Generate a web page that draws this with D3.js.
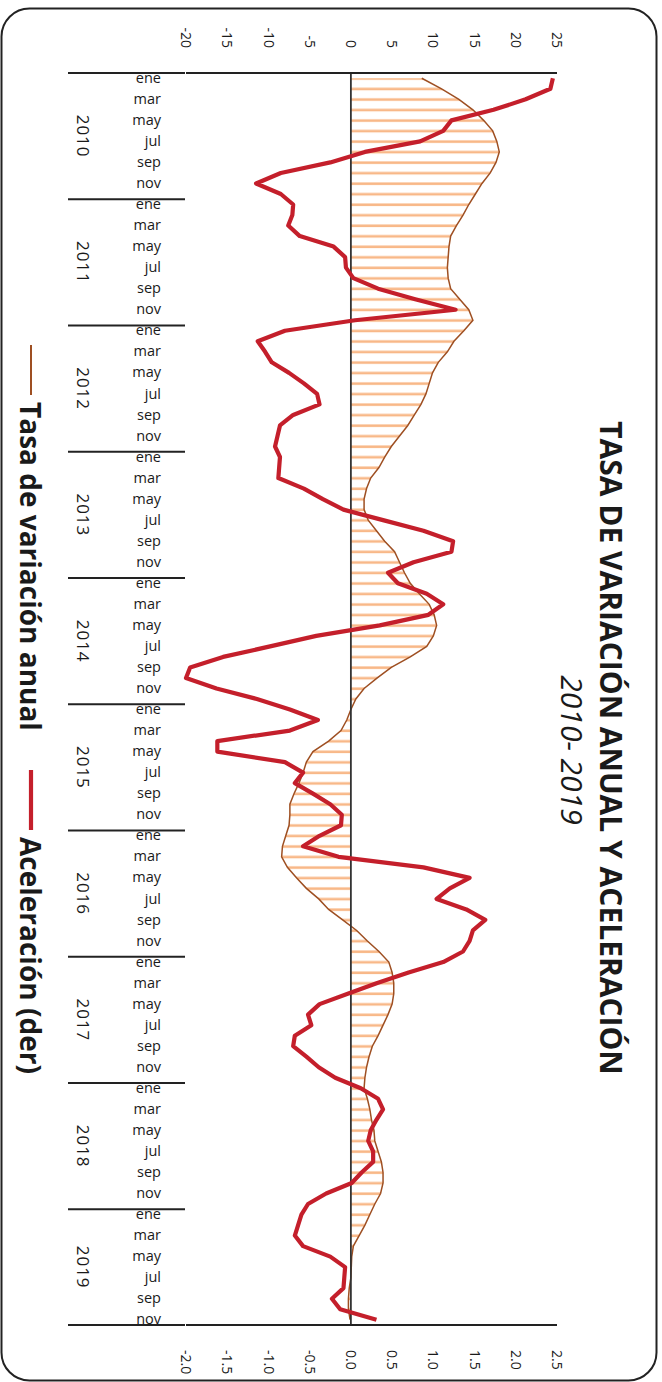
<!DOCTYPE html>
<html>
<head>
<meta charset="utf-8">
<script src="https://cdn.jsdelivr.net/npm/d3@7"></script>
<style>
  body { margin: 0; background: #fff; }
  text { font-family: "Open Sans", sans-serif; fill: #1a1a1a; }
</style>
</head>
<body>
<svg width="662" height="1382"></svg>
<script>
  // categories
  const years = ['2010', '2011', '2012', '2013', '2014', '2015', '2016', '2017', '2018', '2019'];
  const monthNames = ['ene', 'feb', 'mar', 'abr', 'may', 'jun', 'jul', 'ago', 'sep', 'oct', 'nov', 'dic'];

  // tasa de variación anual (%), ene 2010 - nov 2019
  const tasa = [
    8.6, 11.0, 13.1, 14.8, 16.1, 17.2, 17.7, 18.0, 17.6, 16.9, 15.9, 15.1,
    14.3, 13.6, 12.8, 12.1, 11.9, 11.8, 11.7, 11.8, 12.1, 13.2, 14.3, 14.8,
    13.7, 12.5, 11.7, 10.6, 9.9, 9.5, 9.1, 8.5, 7.7, 6.9, 5.9, 4.9,
    4.1, 3.4, 2.4, 1.9, 1.6, 1.6, 2.1, 3.1, 4.1, 5.3, 5.9, 6.5,
    7.2, 8.3, 9.5, 10.1, 10.4, 10.0, 9.2, 7.2, 4.9, 3.2, 1.6, 0.6,
    0.0, -0.5, -1.2, -2.7, -4.6, -5.4, -5.8, -6.3, -6.9, -7.4, -7.4, -7.5,
    -7.9, -8.3, -8.4, -7.7, -6.6, -5.4, -3.9, -2.7, -1.0, 0.7, 2.0, 3.4,
    4.6, 5.0, 5.2, 5.2, 5.0, 4.5, 3.9, 3.3, 2.6, 2.2, 1.9, 1.7,
    1.6, 2.0, 2.3, 2.5, 2.8, 2.9, 3.3, 3.7, 3.9, 3.9, 3.6, 2.9,
    2.3, 1.7, 1.0, 0.3, 0.1, 0.05, 0.0, -0.2, -0.3, -0.3, -0.1
  ];

  // aceleración (eje derecho)
  const aceleracion = [
    2.45, 2.42, 2.12, 1.73, 1.22, 1.12, 0.84, 0.17, -0.25, -0.85, -1.15, -0.85,
    -0.70, -0.71, -0.76, -0.62, -0.21, -0.07, -0.06, 0.03, 0.33, 0.78, 1.27, 0.05,
    -0.80, -1.13, -1.04, -0.96, -0.75, -0.57, -0.41, -0.38, -0.70, -0.86, -0.89, -0.92,
    -0.86, -0.87, -0.88, -0.57, -0.34, -0.09, 0.39, 0.88, 1.24, 1.22, 0.76, 0.45,
    0.57, 0.92, 1.12, 0.94, 0.35, -0.42, -0.98, -1.55, -1.95, -2.00, -1.63, -1.14,
    -0.74, -0.40, -0.74, -1.62, -1.62, -0.80, -0.58, -0.68, -0.46, -0.25, -0.11, -0.12,
    -0.38, -0.58, -0.15, 0.88, 1.44, 1.20, 1.04, 1.40, 1.63, 1.48, 1.44, 1.36,
    1.12, 0.70, 0.32, -0.03, -0.38, -0.52, -0.48, -0.68, -0.70, -0.54, -0.39, -0.19,
    0.12, 0.33, 0.39, 0.31, 0.24, 0.21, 0.27, 0.27, 0.13, 0.01, -0.30, -0.52,
    -0.60, -0.64, -0.68, -0.58, -0.25, -0.07, -0.08, -0.09, -0.23, -0.13, 0.31
  ];

  const leftTicks = [-20, -15, -10, -5, 0, 5, 10, 15, 20, 25];
  const rightTicks = [-2.0, -1.5, -1.0, -0.5, 0.0, 0.5, 1.0, 1.5, 2.0, 2.5];

  const title = 'TASA DE VARIACIÓN ANUAL Y ACELERACIÓN';
  const subtitle = '2010- 2019';
  const legendNames = ['Tasa de variación anual', 'Aceleración (der)'];

  const svg = d3.select('svg');

  // marco redondeado
  svg.append('rect')
    .attr('x', 1.5).attr('y', 8.5)
    .attr('width', 655).attr('height', 1372)
    .attr('rx', 28)
    .attr('fill', 'none')
    .attr('stroke', '#222')
    .attr('stroke-width', 2);

  // the chart is drawn landscape (1382 x 662) and turned 90deg clockwise
  const g = svg.append('g').attr('transform', 'translate(662,0) rotate(90)');

  const months = [];
  years.forEach(y => monthNames.forEach((m, mi) => months.push({ year: y, month: m, mi: mi })));
  const cats = months.slice(0, tasa.length).map(d => ({ ...d, key: d.month + ' ' + d.year }));

  const x = d3.scaleBand().domain(cats.map(d => d.key)).range([73, 1325]);
  const bw = x.bandwidth();
  const xc = d => x(d.key) + bw / 2;
  const yRate = d3.scaleLinear().domain([-20, 25]).range([476, 105]);
  const yAcc = d3.scaleLinear().domain([-2, 2.5]).range([476, 105]);

  // horizontal hatching for the area
  const pat = svg.append('defs').append('pattern')
    .attr('id', 'rayas')
    .attr('patternUnits', 'userSpaceOnUse')
    .attr('x', 73).attr('y', 0)
    .attr('width', bw).attr('height', 662);
  pat.append('line')
    .attr('x1', 5.5).attr('x2', 5.5)
    .attr('y1', 0).attr('y2', 662)
    .attr('stroke', '#f8b888')
    .attr('stroke-width', 2.6);

  const area = d3.area()
    .x((d, i) => xc(cats[i]))
    .y0(yRate(0))
    .y1(d => yRate(d));

  g.append('path')
    .datum(tasa)
    .attr('d', area)
    .attr('fill', 'url(#rayas)');

  g.append('path')
    .datum(tasa)
    .attr('d', d3.line().x((d, i) => xc(cats[i])).y(d => yRate(d)))
    .attr('fill', 'none')
    .attr('stroke', '#9e4f22')
    .attr('stroke-width', 1.5);

  // zero line
  g.append('line')
    .attr('x1', 73).attr('x2', 1325)
    .attr('y1', yRate(0)).attr('y2', yRate(0))
    .attr('stroke', '#333')
    .attr('stroke-width', 1.8);

  // aceleración
  g.append('path')
    .datum(aceleracion)
    .attr('d', d3.line().x((d, i) => xc(cats[i])).y(d => yAcc(d)))
    .attr('fill', 'none')
    .attr('stroke', '#c41f2b')
    .attr('stroke-width', 4.2)
    .attr('stroke-linejoin', 'round');

  // value axis lines (left / right in landscape)
  [73, 1325].forEach(px => {
    g.append('line')
      .attr('x1', px).attr('x2', px)
      .attr('y1', 105).attr('y2', 476)
      .attr('stroke', '#222').attr('stroke-width', 2);
  });

  // year separators
  const sep = cats.filter(d => d.mi === 0).map(d => x(d.key)).concat([1325]);
  g.selectAll('.sep').data(sep).enter().append('line')
    .attr('class', 'sep')
    .attr('x1', d => d).attr('x2', d => d)
    .attr('y1', 477).attr('y2', 594)
    .attr('stroke', '#222').attr('stroke-width', 2);

  // year labels
  g.selectAll('.year').data(years).enter().append('text')
    .attr('class', 'year')
    .attr('x', d => {
      const ms = cats.filter(c => c.year === d);
      return (x(ms[0].key) + x(ms[ms.length - 1].key) + bw) / 2;
    })
    .attr('y', 579)
    .attr('dy', '0.35em')
    .attr('text-anchor', 'middle')
    .attr('font-size', 17)
    .attr('letter-spacing', 1)
    .text(d => d);

  // month labels, every other month
  g.selectAll('.month').data(cats.filter(d => d.mi % 2 === 0)).enter().append('text')
    .attr('class', 'month')
    .attr('transform', d => `translate(${xc(d)},${501}) rotate(-90)`)
    .attr('dy', '0.32em')
    .attr('text-anchor', 'end')
    .attr('font-size', 14.5)
    .text(d => d.month);

  // left value labels
  g.selectAll('.lt').data(leftTicks).enter().append('text')
    .attr('class', 'lt')
    .attr('x', 48)
    .attr('y', d => yRate(d))
    .attr('dy', '0.35em')
    .attr('text-anchor', 'end')
    .attr('font-size', 14)
    .text(d => String(d));

  // right value labels
  g.selectAll('.rt').data(rightTicks).enter().append('text')
    .attr('class', 'rt')
    .attr('x', 1350)
    .attr('y', d => yAcc(d))
    .attr('dy', '0.35em')
    .attr('text-anchor', 'start')
    .attr('font-size', 14)
    .text(d => d.toFixed(1));

  // title
  g.append('text')
    .attr('x', 748).attr('y', 62)
    .attr('text-anchor', 'middle')
    .attr('font-size', 30)
    .attr('font-weight', 'bold')
    .text(title);

  g.append('text')
    .attr('x', 750).attr('y', 101)
    .attr('text-anchor', 'middle')
    .attr('font-size', 30)
    .attr('font-style', 'italic')
    .text(subtitle);

  // legend
  const legend = [
    { name: legendNames[0], x0: 345, x1: 395, color: '#9e4f22', w: 2 },
    { name: legendNames[1], x0: 770, x1: 830, color: '#c41f2b', w: 4.2 }
  ];
  legend.forEach(l => {
    g.append('line')
      .attr('x1', l.x0).attr('x2', l.x1)
      .attr('y1', 631).attr('y2', 631)
      .attr('stroke', l.color).attr('stroke-width', l.w);
    g.append('text')
      .attr('x', l.x1 + 7).attr('y', 642)
      .attr('font-size', 28)
      .attr('font-weight', 'bold')
      .text(l.name);
  });
</script>
</body>
</html>
